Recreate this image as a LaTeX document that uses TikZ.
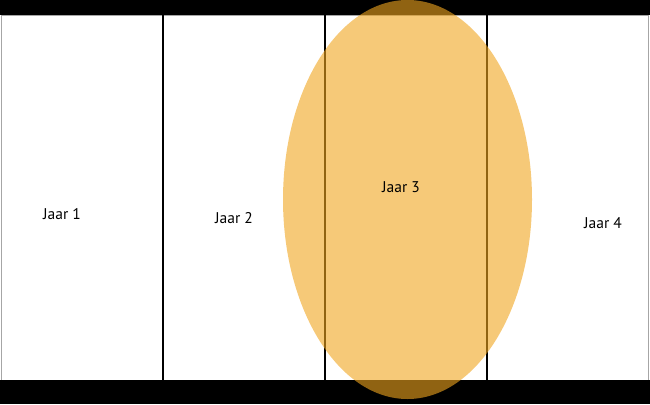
\documentclass[tikz,border=0pt]{standalone}
\usepackage{fontspec}
\setmainfont{PT Sans}
\usepackage{xcolor}
\definecolor{jaarorange}{RGB}{240,165,30}

\begin{document}
\begin{tikzpicture}[x=1pt, y=-1pt, font=\fontsize{15.5}{18}\selectfont]
        \useasboundingbox (0,0) rectangle (650,404);
        % Frame and bars
        \draw[gray!70, line width=0.8pt] (1,15) rectangle (648,380);
        \fill[black] (0,0) rectangle (650,15);
        \fill[black] (0,380) rectangle (650,404);

        % Year dividers
        \foreach \x in {163,325,487}
            \draw[black, line width=1.8pt] (\x,15) -- (\x,380);

        % Highlight
        \fill[jaarorange, opacity=0.6] (407.5,199.5) ellipse [x radius=124.5, y radius=199.5];

        % Nodes
        \node (J1) at (62,214) {Jaar 1};
        \node (J2) at (234,218) {Jaar 2};
        \node (J3) at (401,187) {Jaar 3};
        \node (J4) at (603,223) {Jaar 4};
    \end{tikzpicture}
\end{document}
